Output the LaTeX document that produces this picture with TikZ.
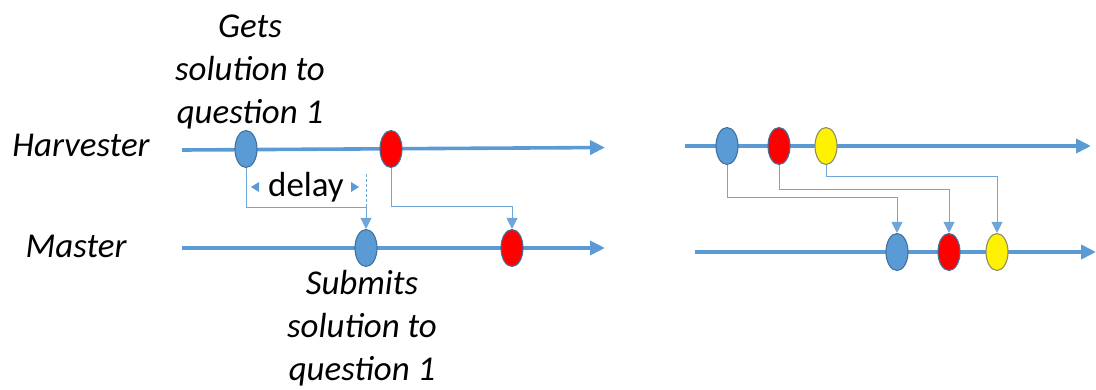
\documentclass[tikz,border=0pt]{standalone}
\usepackage{fontspec}
\setmainfont{Carlito}
\usetikzlibrary{arrows.meta,shapes.geometric}
\definecolor{lineblue}{HTML}{5B9BD5}
\definecolor{edgeblue}{HTML}{41719C}
\definecolor{thinblue}{HTML}{6FA6DA}
\tikzset{
  timeline/.style={draw=lineblue, line width=3.6bp, -{Triangle[length=15bp,width=14bp]}},
  event/.style={ellipse, draw=edgeblue, line width=1.1bp, minimum width=22bp, minimum height=37bp, inner sep=0pt},
  bluev/.style={event, fill=lineblue},
  redv/.style={event, fill=red},
  yellowv/.style={event, fill=yellow, draw=gray!70!olive},
  conn/.style={draw=thinblue, line width=1bp, -{Triangle[length=11bp,width=11bp]}},
  label/.style={font=\fontsize{35}{43}\selectfont\itshape, align=center, inner sep=0pt},
  delaytip/.style={fill=lineblue}
}
\begin{document}
\begin{tikzpicture}[x=1bp,y=-1bp]
\useasboundingbox (0,0) rectangle (1096,389);

% row labels
\node[label] (harv) at (81,145) {Harvester};
\node[label] (mast) at (76,246) {Master};

% left pair of time lines
\coordinate (hl0) at (182,150);
\coordinate (hl1) at (605,147.5);
\coordinate (ml0) at (182,248);
\coordinate (ml1) at (605,248);
\draw[timeline] (hl0) -- (hl1);
\draw[timeline] (ml0) -- (ml1);

% right pair of time lines
\coordinate (hr0) at (685,146);
\coordinate (hr1) at (1091,146);
\coordinate (mr0) at (695,252);
\coordinate (mr1) at (1096,252);
\draw[timeline] (hr0) -- (hr1);
\draw[timeline] (mr0) -- (mr1);

% events, left
\node[bluev] (hb) at (246,149) {};
\node[redv]  (hr) at (391,149) {};
\node[bluev] (mb) at (366,248) {};
\node[redv]  (mr) at (512,248) {};

% events, right
\node[bluev]   (hb2) at (727,146) {};
\node[redv]    (hr2) at (779,146) {};
\node[yellowv] (hy2) at (826,146) {};
\node[bluev]   (mb2) at (897,252) {};
\node[redv]    (mr2) at (949,252) {};
\node[yellowv] (my2) at (997,252) {};

% submissions, left
\draw[conn] (hb.south) -- (hb.south |- 0,207) -| (mb.north);
\draw[conn] (hr.south) -- (hr.south |- 0,206) -| (mr.north);

% delay marker
\coordinate (dtop) at (366,174);
\coordinate (dbot) at (366,207);
\draw[draw=thinblue, line width=0.8bp, dash pattern=on 3bp off 2bp] (dtop) -- (dbot);
\fill[delaytip] (251,187) -- (259,182) -- (259,192) -- cycle;
\fill[delaytip] (359,187) -- (351,182) -- (351,192) -- cycle;
\node[font=\fontsize{35}{40}\selectfont, inner sep=0pt, anchor=base] (delay) at (306,196) {delay};

% submissions, right
\draw[conn] (hb2.south) -- (hb2.south |- 0,197) -| (mb2.north);
\draw[conn] (hr2.south) -- (hr2.south |- 0,189) -| (mr2.north);
\draw[conn] (hy2.south) -- (hy2.south |- 0,176) -| (my2.north);

% captions
\node[label] (gets) at (250,72) {Gets\\solution to\\question 1};
\node[label] (subm) at (362,328) {Submits\\solution to\\question 1};
\end{tikzpicture}
\end{document}
